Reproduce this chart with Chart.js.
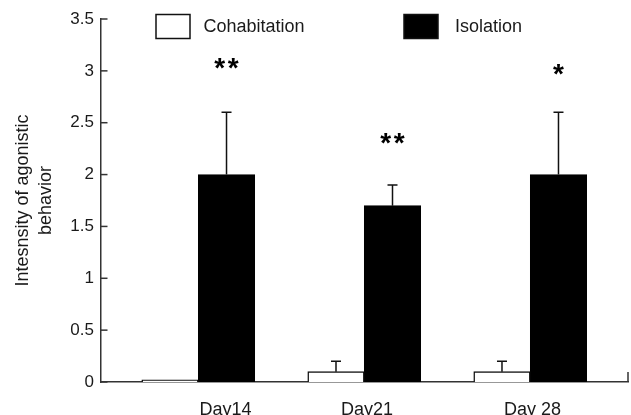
<!DOCTYPE html>
<html>
<head>
<meta charset="utf-8">
<script src="https://cdn.jsdelivr.net/npm/chart.js@4"></script>
<style>
html,body{margin:0;padding:0;background:#fff;}
canvas{display:block;}
</style>
</head>
<body>
<canvas id="c" width="631" height="415"></canvas>
<script>
// ---- data ----
const days = ['Day14', 'Day21', 'Day 28'];
const dayIndex = [1, 2, 3];
const cohabitation = [0.02, 0.1, 0.1];
const cohabitationErr = [0, 0.1, 0.1];
const isolation = [2.0, 1.7, 2.0];
const isolationErr = [0.6, 0.2, 0.6];
const significance = ['**', '**', '*'];
const starLevel = [3.1, 2.37, 3.04];
const yTicks = [0, 0.5, 1, 1.5, 2, 2.5, 3, 3.5];
const yTickLabels = ['0', '0.5', '1', '1.5', '2', '2.5', '3', '3.5'];

// ---- styling / layout ----
const FONT = "'Liberation Sans', Arial, Helvetica, sans-serif";
const TEXT = '#1a1a1a';
const AXIS = '#333';
const X_MIN = 0.414, X_MAX = 3.589;
const labelAt = [1.164, 2.017, 3.013];

const errorBars = {
  id: 'errorBars',
  afterDatasetsDraw(chart) {
    const {ctx, scales: {y}} = chart;
    ctx.save();
    ctx.strokeStyle = '#111';
    ctx.lineWidth = 1.5;
    chart.data.datasets.forEach((ds, di) => {
      const meta = chart.getDatasetMeta(di);
      meta.data.forEach((bar, j) => {
        const e = ds.err[j];
        if (!e) return;
        const v = ds.data[j].y;
        const top = y.getPixelForValue(v + e);
        ctx.beginPath();
        ctx.moveTo(bar.x, bar.y);
        ctx.lineTo(bar.x, top);
        ctx.moveTo(bar.x - 5, top);
        ctx.lineTo(bar.x + 5, top);
        ctx.stroke();
      });
    });
    ctx.restore();
  }
};

const stars = {
  id: 'stars',
  afterDatasetsDraw(chart) {
    const {ctx, scales: {y}} = chart;
    const meta = chart.getDatasetMeta(1);
    const size = 28;
    ctx.save();
    ctx.fillStyle = '#000';
    ctx.font = 'bold ' + size + 'px ' + FONT;
    ctx.textAlign = 'center';
    ctx.textBaseline = 'alphabetic';
    significance.forEach((s, j) => {
      const bar = meta.data[j];
      const cy = y.getPixelForValue(starLevel[j]);
      const n = s.length;
      for (let k = 0; k < n; k++) {
        const cx = bar.x + (k - (n - 1) / 2) * 13.5;
        ctx.fillText('*', cx, cy + 0.58 * size);
      }
    });
    ctx.restore();
  }
};

const boxLegend = {
  id: 'boxLegend',
  afterDraw(chart) {
    const {ctx} = chart;
    const spots = [{x: 156, tx: 203.5}, {x: 404, tx: 455}];
    ctx.save();
    ctx.font = '18px ' + FONT;
    ctx.textBaseline = 'middle';
    ctx.textAlign = 'left';
    chart.data.datasets.forEach((ds, i) => {
      const p = spots[i];
      ctx.fillStyle = ds.backgroundColor;
      ctx.fillRect(p.x, 14.5, 34, 24);
      ctx.strokeStyle = '#111';
      ctx.lineWidth = 1.5;
      ctx.strokeRect(p.x, 14.5, 34, 24);
      ctx.fillStyle = TEXT;
      ctx.fillText(ds.label, p.tx, 27);
    });
    ctx.restore();
  }
};

const axisDeco = {
  id: 'axisDeco',
  afterDraw(chart) {
    const {ctx, chartArea: a, scales: {y}} = chart;
    ctx.save();
    ctx.strokeStyle = AXIS;
    ctx.lineWidth = 1.5;
    y.ticks.forEach((t, i) => {
      const py = y.getPixelForTick(i);
      ctx.beginPath();
      ctx.moveTo(a.left, py);
      ctx.lineTo(a.left + 6.5, py);
      ctx.stroke();
    });
    ctx.beginPath();
    ctx.moveTo(a.right, a.bottom);
    ctx.lineTo(a.right, a.bottom - 10);
    ctx.stroke();
    ctx.restore();
  }
};

new Chart(document.getElementById('c'), {
  type: 'bar',
  data: {
    datasets: [
      {
        label: 'Cohabitation',
        data: dayIndex.map((x, i) => ({x, y: cohabitation[i]})),
        err: cohabitationErr,
        backgroundColor: '#ffffff',
        borderColor: '#111',
        borderWidth: 1.5,
        barThickness: 56.5
      },
      {
        label: 'Isolation',
        data: dayIndex.map((x, i) => ({x, y: isolation[i]})),
        err: isolationErr,
        backgroundColor: '#000000',
        borderColor: '#000',
        borderWidth: 1,
        barThickness: 56.5
      }
    ]
  },
  options: {
    responsive: false,
    animation: false,
    devicePixelRatio: 1,
    layout: {padding: {top: 19, right: 3, left: 0, bottom: 0}},
    plugins: {legend: {display: false}, tooltip: {enabled: false}},
    scales: {
      x: {
        type: 'linear', position: 'bottom', min: X_MIN, max: X_MAX, weight: 0, offset: false,
        afterBuildTicks: s => { s.ticks = dayIndex.map(v => ({value: v})); },
        afterFit: s => { s.height = 0; },
        grid: {display: false, drawTicks: false, offset: false},
        border: {display: true, color: AXIS, width: 1.5},
        ticks: {display: false}
      },
      xl: {
        type: 'linear', position: 'bottom', min: X_MIN, max: X_MAX, weight: 1, offset: false,
        afterBuildTicks: s => { s.ticks = labelAt.map(v => ({value: v})); },
        afterFit: s => { s.height = 33; },
        grid: {display: false, drawTicks: false, offset: false},
        border: {display: false},
        ticks: {
          padding: 17, autoSkip: false, maxRotation: 0,
          font: {family: FONT, size: 18}, color: TEXT,
          callback: (v, i) => days[i]
        }
      },
      y: {
        min: 0, max: 3.5,
        afterBuildTicks: s => { s.ticks = yTicks.map(v => ({value: v})); },
        afterFit: s => { s.width = 101; },
        grid: {display: false, drawTicks: false},
        border: {display: true, color: AXIS, width: 1.5},
        ticks: {
          padding: 7, font: {family: FONT, size: 17}, color: TEXT,
          callback: (v, i) => yTickLabels[i]
        },
        title: {
          display: true,
          text: ['Intesnsity of agonistic', 'behavior'],
          font: {family: FONT, size: 18, lineHeight: 1.25},
          color: TEXT,
          padding: {top: 12, bottom: 0}
        }
      }
    }
  },
  plugins: [errorBars, stars, boxLegend, axisDeco]
});
</script>
</body>
</html>
